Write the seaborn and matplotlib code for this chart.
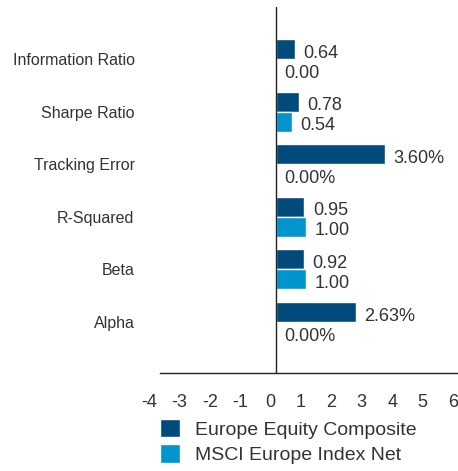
import matplotlib
matplotlib.use("Agg")
import matplotlib.pyplot as plt
import matplotlib.transforms as mtransforms
import pandas as pd
import seaborn as sns
from matplotlib.patches import Rectangle

metrics = ["Information Ratio", "Sharpe Ratio", "Tracking Error", "R-Squared", "Beta", "Alpha"]
composite = [0.64, 0.78, 3.60, 0.95, 0.92, 2.63]
benchmark = [0.00, 0.54, 0.00, 1.00, 1.00, 0.00]
composite_labels = ["0.64", "0.78", "3.60%", "0.95", "0.92", "2.63%"]
benchmark_labels = ["0.00", "0.54", "0.00%", "1.00", "1.00", "0.00%"]
series_names = ["Europe Equity Composite", "MSCI Europe Index Net"]
x_ticks = [-4, -3, -2, -1, 0, 1, 2, 3, 4, 5, 6]

color_map = {
    "Europe Equity Composite": "#004a7c",
    "MSCI Europe Index Net": "#0096cd",
}
TEXT = "#333333"

sns.set_style("white")
plt.rcParams["font.family"] = ["Liberation Sans", "DejaVu Sans"]

df = pd.concat(
    [
        pd.DataFrame({"metric": metrics, "value": composite, "series": series_names[0]}),
        pd.DataFrame({"metric": metrics, "value": benchmark, "series": series_names[1]}),
    ],
    ignore_index=True,
)

fig = plt.figure(figsize=(4.58, 4.71), dpi=100)
ax = fig.add_axes([154 / 458, 1 - 373 / 471, 1 - 154 / 458, (373 - 7) / 471])

sns.barplot(
    df,
    x="value",
    y="metric",
    hue="series",
    order=metrics,
    hue_order=series_names,
    palette=color_map,
    orient="h",
    width=0.76,
    gap=0,
    saturation=1,
    legend=False,
    ax=ax,
)

# value labels right of each bar
for container, labels in zip(ax.containers, [composite_labels, benchmark_labels]):
    for bar, lab in zip(container, labels):
        ax.annotate(
            lab,
            xy=(bar.get_width(), bar.get_y() + bar.get_height() / 2),
            xytext=(6, -3),
            textcoords="offset points",
            va="center",
            ha="left",
            fontsize=13,
            color=TEXT,
        )

ax.set_xlim(-4, 6)
ax.set_ylim(5.97, -0.99)
ax.axvline(0, color="#222222", lw=1.0)
ax.set_xticks(x_ticks)
ax.set_xticklabels([str(t) for t in x_ticks])
ax.set_xlabel("")
ax.set_ylabel("")

for side in ["left", "top", "right"]:
    ax.spines[side].set_visible(False)
ax.spines["bottom"].set_color("#222222")
ax.spines["bottom"].set_linewidth(1.0)
ax.spines["bottom"].set_bounds(-3.8, 6)

ax.tick_params(axis="x", length=0, pad=15, labelsize=13, labelcolor=TEXT)
ax.tick_params(axis="y", length=0, pad=14, labelsize=11.5, labelcolor=TEXT)

# shift x tick labels slightly left like the original
offset = mtransforms.ScaledTranslation(-5 / 100, 0, fig.dpi_scale_trans)
for lab in ax.get_xticklabels():
    lab.set_transform(lab.get_transform() + offset)

handles = [Rectangle((0, 0), 1, 1, fc=color_map[s]) for s in series_names]
fig.legend(
    handles,
    series_names,
    loc="upper left",
    bbox_to_anchor=(160 / 458, 1 - 419 / 471),
    frameon=False,
    fontsize=14,
    handlelength=1.05,
    handleheight=1.05,
    handletextpad=0.75,
    labelspacing=0.3,
    borderpad=0,
    borderaxespad=0,
    labelcolor=TEXT,
)

fig.savefig("out.png", dpi=100)
